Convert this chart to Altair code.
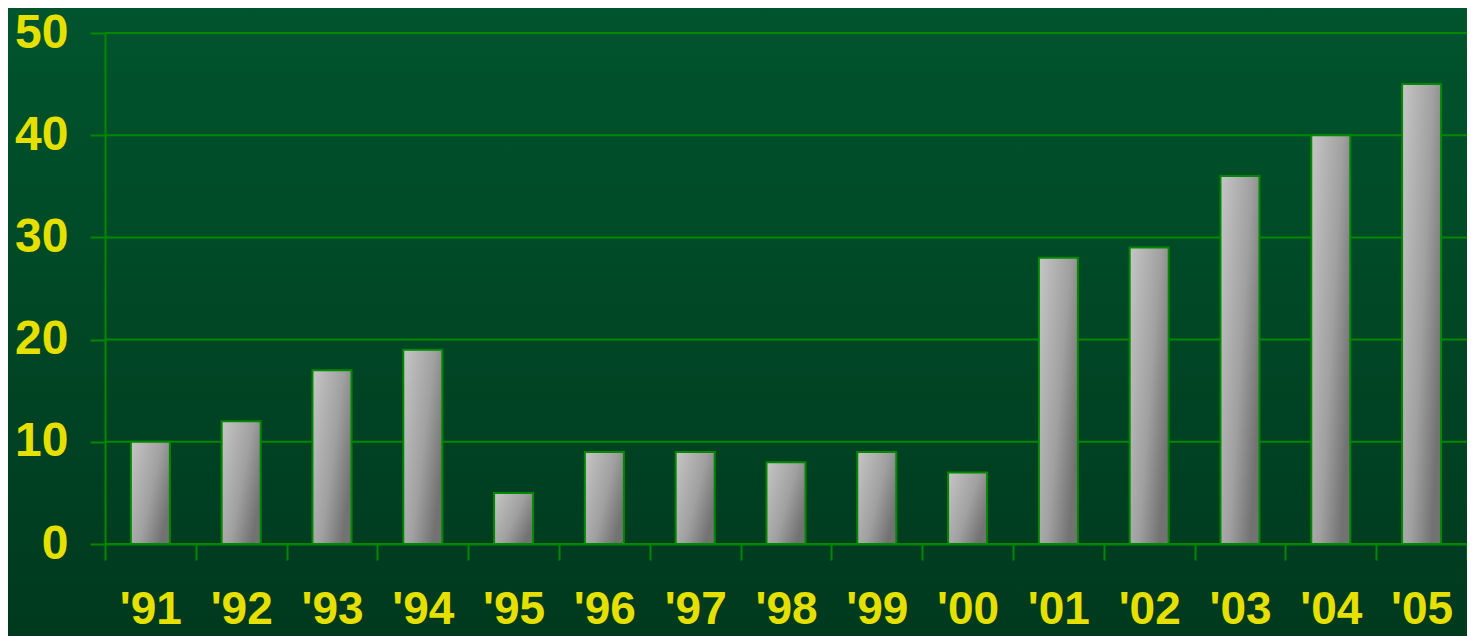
import altair as alt
import pandas as pd

years = ["'91", "'92", "'93", "'94", "'95", "'96", "'97", "'98", "'99", "'00",
         "'01", "'02", "'03", "'04", "'05"]
values = [10, 12, 17, 19, 5, 9, 9, 8, 9, 7, 28, 29, 36, 40, 45]
y_ticks = [0, 10, 20, 30, 40, 50]

df = pd.DataFrame({"year": years, "value": values})
grid_df = pd.DataFrame({"value": y_ticks})

GREEN = "#008800"
YELLOW = "#e6e000"
W, H = 1362, 511

bg_grad = alt.Gradient(
    gradient="linear",
    stops=[alt.GradientStop(color="#00552d", offset=0),
           alt.GradientStop(color="#00391e", offset=1)],
    x1=0, x2=0, y1=0, y2=1,
)
bar_grad = alt.Gradient(
    gradient="linear",
    stops=[alt.GradientStop(color="#c6c6c6", offset=0),
           alt.GradientStop(color="#a0a0a0", offset=0.6),
           alt.GradientStop(color="#727272", offset=1)],
    x1=0, x2=1, y1=0, y2=0.6,
)

y_axis = alt.Axis(title=None, values=y_ticks, zindex=1,
                  labelFont="Liberation Sans", labelFontWeight="bold",
                  labelFontSize=48, labelColor=YELLOW, labelPadding=22,
                  tickColor=GREEN, tickWidth=2, tickSize=15,
                  domainColor=GREEN, domainWidth=2, grid=False)
y_scale = alt.Scale(domain=[0, 50], nice=False)

background = alt.Chart(alt.Data(values=[{}])).mark_rect(
    clip=False, fill=bg_grad
).encode(
    x=alt.value(-120), x2=alt.value(W + 20),
    y=alt.value(-40), y2=alt.value(H + 100),
)

grid = alt.Chart(grid_df).mark_rule(color=GREEN, strokeWidth=2).encode(
    y=alt.Y("value:Q", scale=y_scale, axis=y_axis),
)

bars = alt.Chart(df).mark_bar(
    fill=bar_grad, stroke=GREEN, strokeWidth=2,
    width=alt.RelativeBandSize(0.43),
).encode(
    x=alt.X("year:N", sort=years,
            scale=alt.Scale(paddingInner=0, paddingOuter=0),
            axis=alt.Axis(title=None, labelAngle=0, tickBand="extent", zindex=1,
                          labelFont="Liberation Sans", labelFontWeight="bold",
                          labelFontSize=46, labelColor=YELLOW, labelPadding=27,
                          tickColor=GREEN, tickWidth=2, tickSize=16,
                          domainColor=GREEN, domainWidth=2, grid=False)),
    y=alt.Y("value:Q", scale=y_scale, axis=y_axis),
)

chart = alt.layer(background, grid, bars).properties(
    width=W, height=H,
    autosize=alt.AutoSizeParams(type="none"),
    padding={"left": 97, "top": 25, "right": 0, "bottom": 92},
    background="#00472a",
).configure_view(stroke=None)

chart.save("out.html", embed_options={"renderer": "svg", "actions": False})
